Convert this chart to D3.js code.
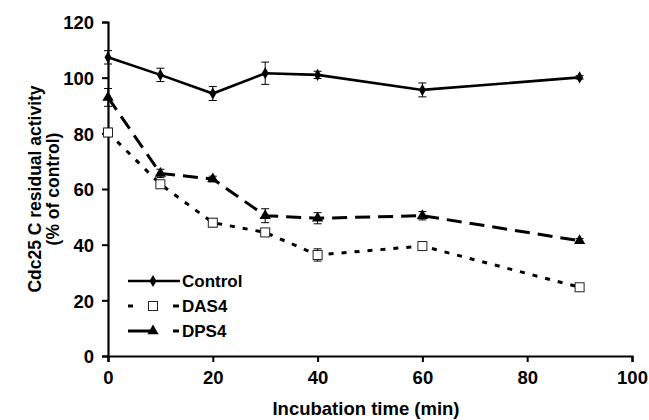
<!DOCTYPE html>
<html>
<head>
<meta charset="utf-8">
<script src="https://cdn.jsdelivr.net/npm/d3@7"></script>
<style>
  body { margin: 0; background: #fff; }
  text { font-family: "Liberation Sans", Arial, sans-serif; font-weight: bold; fill: #000; }
</style>
</head>
<body>
<div id="chart"></div>
<script>
// incubation times (min)
const times = [0, 10, 20, 30, 40, 60, 90];

const controlValues = [107.3, 101, 94.3, 101.6, 101, 95.6, 100.1];
const controlErrors = [2.4, 2.4, 2.5, 4, 1.3, 2.5, 0.6];

const das4Values = [80.3, 61.7, 47.9, 44.4, 36.3, 39.5, 24.7];
const das4Errors = [1.5, 1.2, 1.5, 1.2, 2.2, 1.5, 0.8];

const dps4Values = [92.9, 65.6, 63.6, 50.4, 49.5, 50.4, 41.4];
const dps4Errors = [3.2, 1.5, 1, 2.5, 2, 1.5, 0.8];

const xTicks = [0, 20, 40, 60, 80, 100];
const yTicks = [0, 20, 40, 60, 80, 100, 120];

const series = [
    { name: 'Control', values: controlValues, errors: controlErrors, dash: null, marker: 'diamond' },
    { name: 'DAS4', values: das4Values, errors: das4Errors, dash: '5,8', marker: 'square' },
    { name: 'DPS4', values: dps4Values, errors: dps4Errors, dash: '15,8', marker: 'triangle' }
];

const width = 649, height = 420;
const margin = { top: 22, right: 17, bottom: 64, left: 108 };
const innerW = width - margin.left - margin.right;
const innerH = height - margin.top - margin.bottom;

const svg = d3.select('#chart').append('svg')
    .attr('width', width)
    .attr('height', height);

const chart = svg.append('g')
    .attr('transform', `translate(${margin.left},${margin.top})`);

const xScale = d3.scaleLinear().domain([0, 100]).range([0, innerW]);
const yScale = d3.scaleLinear().domain([0, 120]).range([innerH, 0]);

// axes
const xAxis = chart.append('g')
    .attr('transform', `translate(0,${innerH})`)
    .call(d3.axisBottom(xScale).tickValues(xTicks).tickSize(6).tickPadding(9));
const yAxis = chart.append('g')
    .call(d3.axisLeft(yScale).tickValues(yTicks).tickSize(6).tickPadding(8));

[xAxis, yAxis].forEach(ax => {
    ax.attr('font-size', null).attr('font-family', null);
    ax.select('.domain').attr('stroke', '#000').attr('stroke-width', 2.2);
    ax.selectAll('.tick line').attr('stroke', '#000').attr('stroke-width', 2);
    ax.selectAll('.tick text')
        .style('font-size', '18.5px')
        .attr('fill', '#000');
});
yAxis.selectAll('.tick text').attr('dy', '0.36em');

// axis labels
svg.append('text')
    .attr('x', 366)
    .attr('y', 415)
    .attr('text-anchor', 'middle')
    .style('font-size', '18.5px')
    .text('Incubation time (min)');

const yLab = svg.append('text')
    .attr('transform', `translate(41,${margin.top + yScale(60)}) rotate(-90)`)
    .attr('text-anchor', 'middle')
    .style('font-size', '17.5px');
yLab.append('tspan').attr('x', 0).attr('dy', 0).text('Cdc25 C residual activity');
yLab.append('tspan').attr('x', 0).attr('dy', 18).text('(% of control)');

function drawMarker(g, type, x, y) {
    if (type === 'diamond') {
        g.append('path')
            .attr('d', d3.symbol().type(d3.symbolDiamond).size(42)())
            .attr('transform', `translate(${x},${y})`)
            .attr('fill', '#000');
    } else if (type === 'square') {
        g.append('rect')
            .attr('x', x - 4.5).attr('y', y - 4.5)
            .attr('width', 9).attr('height', 9)
            .attr('fill', '#fff').attr('stroke', '#222').attr('stroke-width', 1);
    } else {
        g.append('path')
            .attr('d', d3.symbol().type(d3.symbolTriangle).size(55)())
            .attr('transform', `translate(${x},${y})`)
            .attr('fill', '#000');
    }
}

const line = d3.line()
    .x(d => xScale(d[0]))
    .y(d => yScale(d[1]));

series.forEach(s => {
    const pts = times.map((t, i) => [t, s.values[i], s.errors[i]]);
    const g = chart.append('g');

    g.append('path')
        .datum(pts)
        .attr('d', line)
        .attr('fill', 'none')
        .attr('stroke', '#000')
        .attr('stroke-width', s.marker === 'diamond' ? 2.6 : 3)
        .attr('stroke-dasharray', s.dash);

    // error bars
    pts.forEach(d => {
        const x = xScale(d[0]);
        const y1 = yScale(d[1] + d[2]), y2 = yScale(d[1] - d[2]);
        g.append('line').attr('x1', x).attr('x2', x).attr('y1', y1).attr('y2', y2)
            .attr('stroke', '#000').attr('stroke-width', 1);
        [y1, y2].forEach(yy => g.append('line')
            .attr('x1', x - 4).attr('x2', x + 4).attr('y1', yy).attr('y2', yy)
            .attr('stroke', '#000').attr('stroke-width', 1));
    });

    pts.forEach(d => drawMarker(g, s.marker, xScale(d[0]), yScale(d[1])));
});

// legend
const legend = svg.append('g').attr('transform', 'translate(128,281)');
series.forEach((s, i) => {
    const row = legend.append('g').attr('transform', `translate(0,${i * 25})`);
    if (s.marker === 'diamond') {
        row.append('line').attr('x1', 0).attr('x2', 52).attr('y1', 0).attr('y2', 0)
            .attr('stroke', '#000').attr('stroke-width', 2.6);
    } else if (s.marker === 'square') {
        row.append('line').attr('x1', 0).attr('x2', 5).attr('stroke', '#000').attr('stroke-width', 3);
        row.append('line').attr('x1', 45).attr('x2', 51).attr('stroke', '#000').attr('stroke-width', 3);
    } else {
        row.append('line').attr('x1', 0).attr('x2', 24).attr('stroke', '#000').attr('stroke-width', 3);
        row.append('line').attr('x1', 45).attr('x2', 51).attr('stroke', '#000').attr('stroke-width', 3);
    }
    drawMarker(row, s.marker, 25, 0);
    row.append('text')
        .attr('x', 54)
        .attr('y', 6)
        .style('font-size', '17px')
        .text(s.name);
});
</script>
</body>
</html>
